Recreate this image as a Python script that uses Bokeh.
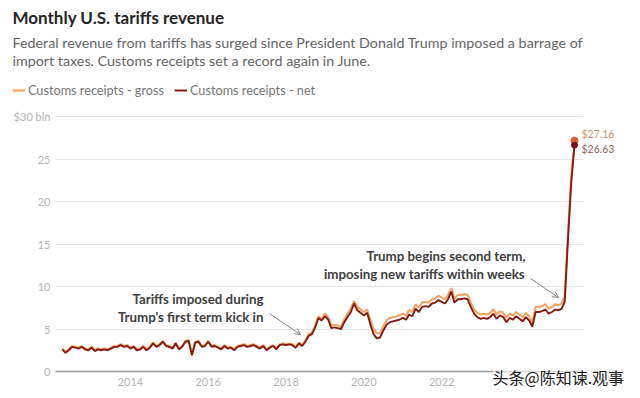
import pandas as pd
from bokeh.plotting import figure
from bokeh.models import (Range1d, FixedTicker, DatetimeTickFormatter, Label, Legend, LegendItem,
                          Arrow, OpenHead, ColumnDataSource, Grid)
from bokeh.embed import file_html
from bokeh.resources import INLINE

# ---------------- data (billions of dollars, monthly from Apr 2012) ----------------
net_2012 = [2.6, 2.2, 2.5, 2.9, 2.8, 2.7, 2.9, 2.6, 2.5]
net_2013 = [2.8, 2.4, 2.6, 2.5, 2.6, 2.5, 2.7, 2.9, 2.9, 3.1, 2.9, 3.0]
net_2014 = [2.7, 2.9, 2.5, 2.6, 2.9, 2.5, 2.8, 3.3, 2.9, 3.1, 3.5, 3.0]
net_2015 = [2.9, 2.7, 3.3, 2.6, 2.9, 3.5, 3.6, 1.9, 3.4, 3.5, 2.9, 3.0]
net_2016 = [3.5, 2.9, 3.0, 2.8, 2.6, 3.0, 2.7, 2.8, 2.5, 2.9, 3.0, 3.1]
net_2017 = [2.9, 3.0, 3.1, 2.9, 2.7, 3.0, 2.5, 2.8, 3.0, 2.6, 3.1, 3.2]
net_2018 = [3.1, 3.2, 3.1, 2.8, 3.3, 3.0, 3.5, 4.2, 4.4, 5.2, 6.3, 6.0]
net_2019 = [6.5, 6.1, 5.1, 5.2, 5.1, 5.0, 5.8, 6.4, 7.0, 8.0, 7.2, 6.9]
net_2020 = [6.6, 6.9, 5.6, 4.4, 3.9, 4.0, 4.8, 5.5, 5.8, 5.9, 6.0, 6.1]
net_2021 = [6.3, 6.1, 6.7, 6.5, 7.4, 7.0, 7.6, 7.7, 7.6, 8.0, 8.1, 8.4]
net_2022 = [8.2, 8.0, 8.5, 9.4, 8.1, 8.5, 8.5, 8.6, 8.5, 7.6, 6.8, 6.4]
net_2023 = [6.2, 6.3, 6.2, 6.4, 6.8, 6.2, 6.6, 6.4, 5.8, 6.3, 6.1, 6.5]
net_2024 = [6.2, 5.9, 6.4, 6.0, 5.3, 7.0, 7.0, 7.1, 7.3, 6.8, 7.0, 7.3]
net_2025 = [7.2, 7.4, 8.2, 15.6, 22.2, 26.63]

gross_2012 = [2.7, 2.3, 2.6, 3.0, 2.9, 2.8, 3.0, 2.7, 2.6]
gross_2013 = [2.9, 2.5, 2.7, 2.6, 2.7, 2.6, 2.8, 3.0, 3.0, 3.2, 3.0, 3.1]
gross_2014 = [2.8, 3.0, 2.6, 2.7, 3.0, 2.6, 2.9, 3.4, 3.0, 3.2, 3.6, 3.1]
gross_2015 = [3.0, 2.8, 3.4, 2.7, 3.0, 3.6, 3.7, 2.0, 3.5, 3.6, 3.0, 3.1]
gross_2016 = [3.6, 3.0, 3.1, 2.9, 2.7, 3.1, 2.8, 2.9, 2.6, 3.0, 3.1, 3.2]
gross_2017 = [3.0, 3.1, 3.2, 3.0, 2.8, 3.1, 2.6, 2.9, 3.1, 2.7, 3.2, 3.3]
gross_2018 = [3.2, 3.3, 3.2, 2.9, 3.4, 3.1, 3.6, 4.4, 4.6, 5.4, 6.5, 6.2]
gross_2019 = [6.8, 6.4, 5.4, 5.5, 5.4, 5.3, 6.1, 6.8, 7.4, 8.3, 7.6, 7.3]
gross_2020 = [7.0, 7.3, 6.1, 5.0, 4.5, 4.5, 5.3, 6.0, 6.3, 6.4, 6.5, 6.6]
gross_2021 = [6.8, 6.6, 7.2, 7.0, 7.9, 7.5, 8.1, 8.2, 8.1, 8.5, 8.6, 8.9]
gross_2022 = [8.7, 8.5, 9.0, 9.8, 8.6, 9.0, 9.0, 9.1, 9.0, 8.1, 7.3, 6.9]
gross_2023 = [6.7, 6.8, 6.7, 6.9, 7.3, 6.7, 7.1, 6.9, 6.3, 6.8, 6.6, 7.0]
gross_2024 = [6.7, 6.4, 6.9, 6.5, 5.8, 7.6, 7.6, 7.7, 7.9, 7.4, 7.6, 7.9]
gross_2025 = [7.8, 8.0, 8.8, 16.3, 22.8, 27.16]

start_month = "2012-04-01"
year_ticks = [2014, 2016, 2018, 2020, 2022, 2024]
y_ticks = [0, 5, 10, 15, 20, 25, 30]

net = (net_2012 + net_2013 + net_2014 + net_2015 + net_2016 + net_2017 + net_2018 +
       net_2019 + net_2020 + net_2021 + net_2022 + net_2023 + net_2024 + net_2025)
gross = (gross_2012 + gross_2013 + gross_2014 + gross_2015 + gross_2016 + gross_2017 + gross_2018 +
         gross_2019 + gross_2020 + gross_2021 + gross_2022 + gross_2023 + gross_2024 + gross_2025)
dates = pd.date_range(start_month, periods=len(net), freq="MS")
src = ColumnDataSource(dict(date=dates, net=net, gross=gross))

# ---------------- layout helpers (canvas pixel -> data); frame = whole canvas ----------------
W, H = 640, 398
X2014, PX_YEAR = 130, 38.9          # px of 1 Jan 2014, px per year
Y0, PX_UNIT = 371, 8.5              # px of value 0, px per $1 bln
GRID_L, GRID_R = 55, 583
MS0 = pd.Timestamp("2014-01-01").value / 1e6
MS_YEAR = 365.2425 * 86400000


def fx(px):
    return MS0 + (px - X2014) / PX_YEAR * MS_YEAR


def fy(py):
    return (Y0 - py) / PX_UNIT


FONT = "Lato"

p = figure(width=W, height=H, output_backend="svg", toolbar_location=None,
           x_axis_type="datetime",
           x_range=Range1d(fx(0), fx(W)), y_range=Range1d(fy(H), fy(0)),
           min_border_left=0, min_border_right=0, min_border_top=0, min_border_bottom=0,
           background_fill_color="white", border_fill_color="white")
p.outline_line_color = None

# axes: zero-width panels, labels pulled into the canvas
p.xaxis.ticker = FixedTicker(ticks=[pd.Timestamp(f"{y}-01-01").value / 1e6 for y in year_ticks])
p.xaxis.formatter = DatetimeTickFormatter(years="%Y", months="%Y", days="%Y", hours="%Y",
                                          minutes="%Y", seconds="%Y", milliseconds="%Y")
p.yaxis.ticker = FixedTicker(ticks=y_ticks)
p.yaxis.major_label_overrides = {30: "$30 bln"}
for ax in (p.xaxis, p.yaxis):
    ax.axis_line_color = None
    ax.major_tick_line_color = None
    ax.minor_tick_line_color = None
    ax.major_tick_out = 0
    ax.major_tick_in = 0
    ax.major_label_text_font = FONT
    ax.major_label_text_font_size = "11px"
    ax.major_label_text_color = "#b4b4b4"
p.xaxis.major_label_standoff = -21
p.yaxis.major_label_standoff = -50

# grid limited to the chart area
p.xgrid.grid_line_color = None
p.ygrid.grid_line_color = "#e6e6e6"
if "cross_bounds" in Grid.properties():
    p.ygrid.cross_bounds = (fx(GRID_L), fx(GRID_R))
    p.ygrid.ticker = FixedTicker(ticks=y_ticks[1:])
p.segment(x0=[fx(GRID_L)], y0=[0], x1=[fx(GRID_R)], y1=[0], line_color="#9a9a9a", line_width=1.5)

r_gross = p.line("date", "gross", source=src, line_color="#f0a66c", line_width=2.2)
r_net = p.line("date", "net", source=src, line_color="#861a12", line_width=1.9)

last_date = dates[-1]
p.scatter([last_date], [gross[-1]], size=7, color="#dd5a32")
p.scatter([last_date], [net[-1]], size=6, color="#7a1410")

p.add_layout(Label(x=last_date, y=gross[-1], text="$27.16", x_offset=7, y_offset=7,
                   text_font=FONT, text_font_size="10.5px", text_color="#c99571",
                   text_baseline="middle"))
p.add_layout(Label(x=last_date, y=net[-1], text="$26.63", x_offset=7, y_offset=-3.5,
                   text_font=FONT, text_font_size="10.5px", text_color="#8f6a60",
                   text_baseline="middle"))

legend = Legend(items=[LegendItem(label="Customs receipts - gross", renderers=[r_gross]),
                       LegendItem(label="Customs receipts - net", renderers=[r_net])],
                orientation="horizontal", location=(12, H - 90 - 8),
                glyph_width=13, glyph_height=16, label_height=16, label_standoff=3,
                spacing=10, padding=0, margin=0, border_line_color=None,
                background_fill_alpha=0, label_text_font=FONT, label_text_font_size="12.7px",
                label_text_color="#777777")
p.add_layout(legend)

p.add_layout(Label(x=fx(12), y=fy(17), text="Monthly U.S. tariffs revenue", text_font=FONT,
                   text_font_style="bold", text_font_size="17px", text_color="#262626",
                   text_baseline="middle"))
sub = dict(text_font=FONT, text_font_size="14.3px", text_color="#666666", text_baseline="middle")
p.add_layout(Label(x=fx(12), y=fy(42),
                   text="Federal revenue from tariffs has surged since President Donald Trump imposed a barrage of",
                   **sub))
p.add_layout(Label(x=fx(12), y=fy(60),
                   text="import taxes. Customs receipts set a record again in June.", **sub))

ann = dict(text_font=FONT, text_font_style="bold", text_font_size="13.3px", text_color="#404040",
           text_align="right", text_baseline="middle")
p.add_layout(Label(x=fx(263), y=fy(298), text="Tariffs imposed during", **ann))
p.add_layout(Label(x=fx(263), y=fy(316), text="Trump's first term kick in", **ann))
p.add_layout(Label(x=fx(525), y=fy(255), text="Trump begins second term,", **ann))
p.add_layout(Label(x=fx(525), y=fy(273), text="imposing new tariffs within weeks", **ann))

head = dict(size=6, line_color="#888888", line_width=1)
p.add_layout(Arrow(x_start=fx(269), y_start=fy(313), x_end=fx(300), y_end=fy(334),
                   line_color="#888888", line_width=1, end=OpenHead(**head)))
p.add_layout(Arrow(x_start=fx(530), y_start=fy(278), x_end=fx(558), y_end=fy(297),
                   line_color="#888888", line_width=1, end=OpenHead(**head)))

p.add_layout(Label(x=fx(492), y=fy(376), text="头条@陈知谏.观事", text_font="Noto Sans CJK SC",
                   text_font_size="16px", text_color="#1a1a1a", text_baseline="middle",
                   background_fill_color="white", background_fill_alpha=0.6))

open("out.html", "w").write(file_html(p, INLINE))
